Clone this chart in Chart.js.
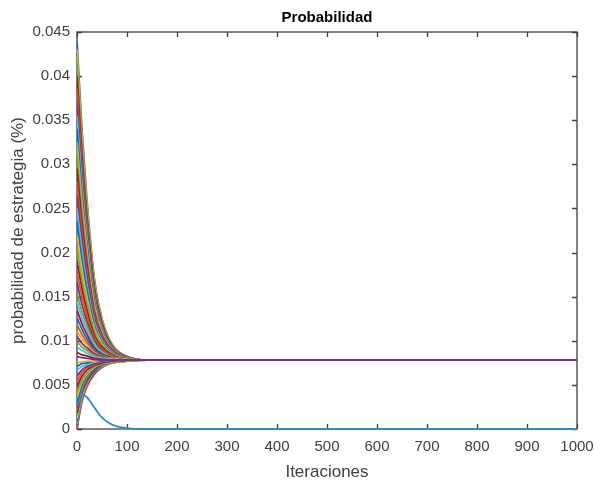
<!DOCTYPE html>
<html>
<head>
<meta charset="utf-8">
<script src="https://cdn.jsdelivr.net/npm/chart.js@4.4.1/dist/chart.umd.min.js"></script>
<style>
  html, body { margin: 0; padding: 0; background: #fff; }
  #wrap { width: 594px; height: 481px; position: relative; }
</style>
</head>
<body>
<div id="wrap"><canvas id="c" width="594" height="481"></canvas></div>
<script>
// ---- data ----
const titulo = "Probabilidad";
const etiquetaX = "Iteraciones";
const etiquetaY = "probabilidad de estrategia (%)";

const iteraciones = [0, 10, 20, 35, 50, 70, 100, 140, 1000];

const ticksX = [0, 100, 200, 300, 400, 500, 600, 700, 800, 900, 1000];
const ticksY = [0, 0.005, 0.01, 0.015, 0.02, 0.025, 0.03, 0.035, 0.04, 0.045];

// strategies starting above the equilibrium
const seriesAltas = [
  [0.0440, 0.0339, 0.0259, 0.0169, 0.0125, 0.0096, 0.0082, 0.0078, 0.0078],
  [0.0430, 0.0331, 0.0254, 0.0166, 0.0124, 0.0096, 0.0082, 0.0078, 0.0078],
  [0.0415, 0.0321, 0.0247, 0.0162, 0.0122, 0.0095, 0.0082, 0.0078, 0.0078],
  [0.0400, 0.0310, 0.0239, 0.0159, 0.0120, 0.0094, 0.0082, 0.0078, 0.0078],
  [0.0385, 0.0299, 0.0232, 0.0155, 0.0118, 0.0093, 0.0082, 0.0078, 0.0078],
  [0.0370, 0.0288, 0.0224, 0.0151, 0.0116, 0.0093, 0.0081, 0.0078, 0.0078],
  [0.0355, 0.0277, 0.0217, 0.0147, 0.0114, 0.0092, 0.0081, 0.0078, 0.0078],
  [0.0340, 0.0267, 0.0209, 0.0144, 0.0112, 0.0091, 0.0081, 0.0078, 0.0078],
  [0.0325, 0.0256, 0.0202, 0.0140, 0.0110, 0.0090, 0.0081, 0.0078, 0.0078],
  [0.0310, 0.0245, 0.0194, 0.0136, 0.0108, 0.0090, 0.0081, 0.0078, 0.0078],
  [0.0295, 0.0234, 0.0187, 0.0132, 0.0106, 0.0089, 0.0081, 0.0078, 0.0078],
  [0.0280, 0.0223, 0.0179, 0.0129, 0.0104, 0.0088, 0.0080, 0.0078, 0.0078],
  [0.0265, 0.0213, 0.0172, 0.0125, 0.0102, 0.0087, 0.0080, 0.0078, 0.0078],
  [0.0250, 0.0202, 0.0164, 0.0121, 0.0100, 0.0087, 0.0080, 0.0078, 0.0078],
  [0.0235, 0.0191, 0.0157, 0.0117, 0.0098, 0.0086, 0.0080, 0.0078, 0.0078],
  [0.0220, 0.0180, 0.0149, 0.0114, 0.0097, 0.0085, 0.0080, 0.0078, 0.0078],
  [0.0205, 0.0169, 0.0142, 0.0110, 0.0095, 0.0084, 0.0080, 0.0078, 0.0078],
  [0.0190, 0.0159, 0.0134, 0.0106, 0.0093, 0.0084, 0.0079, 0.0078, 0.0078],
  [0.0178, 0.0150, 0.0128, 0.0103, 0.0091, 0.0083, 0.0079, 0.0078, 0.0078],
  [0.0166, 0.0141, 0.0122, 0.0100, 0.0089, 0.0082, 0.0079, 0.0078, 0.0078],
  [0.0155, 0.0133, 0.0117, 0.0097, 0.0088, 0.0082, 0.0079, 0.0078, 0.0078],
  [0.0145, 0.0126, 0.0112, 0.0095, 0.0087, 0.0081, 0.0079, 0.0078, 0.0078],
  [0.0135, 0.0119, 0.0107, 0.0092, 0.0085, 0.0081, 0.0078, 0.0078, 0.0078],
  [0.0126, 0.0113, 0.0102, 0.0090, 0.0084, 0.0080, 0.0078, 0.0078, 0.0078],
  [0.0118, 0.0107, 0.0098, 0.0088, 0.0083, 0.0080, 0.0078, 0.0078, 0.0078],
  [0.0111, 0.0102, 0.0095, 0.0086, 0.0082, 0.0080, 0.0078, 0.0078, 0.0078],
  [0.0105, 0.0097, 0.0092, 0.0085, 0.0082, 0.0079, 0.0078, 0.0078, 0.0078],
  [0.0099, 0.0093, 0.0089, 0.0083, 0.0081, 0.0079, 0.0078, 0.0078, 0.0078],
  [0.0093, 0.0089, 0.0086, 0.0082, 0.0080, 0.0079, 0.0078, 0.0078, 0.0078],
  [0.0087, 0.0084, 0.0083, 0.0080, 0.0079, 0.0078, 0.0078, 0.0078, 0.0078],
  [0.0082, 0.0081, 0.0080, 0.0079, 0.0078, 0.0078, 0.0078, 0.0078, 0.0078]
];

// strategies starting below the equilibrium
const seriesBajas = [
  [0.0000, 0.0031, 0.0048, 0.0062, 0.0070, 0.0075, 0.0077, 0.0078, 0.0078],
  [0.0003, 0.0033, 0.0050, 0.0063, 0.0070, 0.0075, 0.0077, 0.0078, 0.0078],
  [0.0006, 0.0035, 0.0051, 0.0064, 0.0071, 0.0075, 0.0077, 0.0078, 0.0078],
  [0.0009, 0.0037, 0.0052, 0.0064, 0.0071, 0.0075, 0.0077, 0.0078, 0.0078],
  [0.0012, 0.0038, 0.0053, 0.0065, 0.0071, 0.0075, 0.0077, 0.0078, 0.0078],
  [0.0015, 0.0040, 0.0054, 0.0065, 0.0072, 0.0075, 0.0077, 0.0078, 0.0078],
  [0.0018, 0.0042, 0.0055, 0.0066, 0.0072, 0.0076, 0.0078, 0.0078, 0.0078],
  [0.0021, 0.0044, 0.0057, 0.0067, 0.0072, 0.0076, 0.0078, 0.0078, 0.0078],
  [0.0024, 0.0046, 0.0058, 0.0067, 0.0073, 0.0076, 0.0078, 0.0078, 0.0078],
  [0.0027, 0.0047, 0.0059, 0.0068, 0.0073, 0.0076, 0.0078, 0.0078, 0.0078],
  [0.0030, 0.0049, 0.0060, 0.0068, 0.0073, 0.0076, 0.0078, 0.0078, 0.0078],
  [0.0036, 0.0053, 0.0062, 0.0070, 0.0074, 0.0076, 0.0078, 0.0078, 0.0078],
  [0.0042, 0.0056, 0.0064, 0.0071, 0.0074, 0.0077, 0.0078, 0.0078, 0.0078],
  [0.0048, 0.0060, 0.0067, 0.0072, 0.0075, 0.0077, 0.0078, 0.0078, 0.0078],
  [0.0054, 0.0064, 0.0069, 0.0073, 0.0076, 0.0077, 0.0078, 0.0078, 0.0078],
  [0.0060, 0.0067, 0.0071, 0.0074, 0.0076, 0.0077, 0.0078, 0.0078, 0.0078],
  [0.0066, 0.0071, 0.0073, 0.0076, 0.0077, 0.0078, 0.0078, 0.0078, 0.0078],
  [0.0071, 0.0074, 0.0075, 0.0077, 0.0077, 0.0078, 0.0078, 0.0078, 0.0078],
  [0.0075, 0.0076, 0.0077, 0.0077, 0.0078, 0.0078, 0.0078, 0.0078, 0.0078]
];

// strategy that dies out
const serieExtinta = [0.0026, 0.0039, 0.0036, 0.0024, 0.0013, 0.0005, 0.0001, 0.0000, 0.0000];

// ---- styling ----
const paleta = ['#0072BD', '#D95319', '#EDB120', '#7E2F8E', '#77AC30', '#4DBEEE', '#A2142F'];
const colorExtinta = '#2E8CC2';
const colorFinal = '#7E2F8E';

function toPoints(arr) {
  return arr.map((v, i) => ({ x: iteraciones[i], y: v }));
}

const datasets = [];
const n = Math.max(seriesAltas.length, seriesBajas.length);
let k = 0;
for (let i = 0; i < n; i++) {
  if (i < seriesAltas.length) {
    datasets.push({ data: toPoints(seriesAltas[i]), borderColor: paleta[k % 7] }); k++;
  }
  if (i < seriesBajas.length) {
    datasets.push({ data: toPoints(seriesBajas[i]), borderColor: paleta[k % 7] }); k++;
  }
}
datasets[datasets.length - 1].borderColor = colorFinal;
datasets.push({ data: toPoints(serieExtinta), borderColor: colorExtinta, clip: false });

datasets.forEach(d => {
  d.borderWidth = 1.8;
  d.pointRadius = 0;
  d.fill = false;
  d.cubicInterpolationMode = 'monotone';
});
// Chart.js paints dataset 0 last (on top): reverse so the plotting order matches MATLAB's
datasets.reverse();

const FONT = "'Liberation Sans', Arial, Helvetica, sans-serif";
const AXIS = '#404040';

const decor = {
  id: 'decor',
  beforeDatasetsDraw(chart) {
    const { ctx, chartArea: a, scales } = chart;
    ctx.save();
    ctx.strokeStyle = AXIS;
    ctx.lineWidth = 1.3;
    ctx.strokeRect(a.left, a.top, a.right - a.left, a.bottom - a.top);
    const L = 5;
    ctx.beginPath();
    ticksX.forEach(v => {
      const x = Math.round(scales.x.getPixelForValue(v)) + 0.5;
      ctx.moveTo(x, a.bottom); ctx.lineTo(x, a.bottom - L);
      ctx.moveTo(x, a.top); ctx.lineTo(x, a.top + L);
    });
    ticksY.forEach(v => {
      const y = Math.round(scales.y.getPixelForValue(v)) + 0.5;
      ctx.moveTo(a.left, y); ctx.lineTo(a.left + L, y);
      ctx.moveTo(a.right, y); ctx.lineTo(a.right - L, y);
    });
    ctx.stroke();
    ctx.restore();
  },
  afterDraw(chart) {
    const { ctx, chartArea: a } = chart;
    const cx = (a.left + a.right) / 2;
    const cy = (a.top + a.bottom) / 2;
    ctx.save();
    ctx.textAlign = 'center';
    ctx.textBaseline = 'middle';
    ctx.fillStyle = '#000';
    ctx.font = 'bold 15px ' + FONT;
    ctx.fillText(titulo, cx, 18);
    ctx.fillStyle = AXIS;
    ctx.font = '17px ' + FONT;
    ctx.fillText(etiquetaX, cx, 472);
    ctx.translate(18, cy);
    ctx.rotate(-Math.PI / 2);
    ctx.fillText(etiquetaY, 0, 0);
    ctx.restore();
  }
};

new Chart(document.getElementById('c'), {
  type: 'line',
  data: { datasets },
  options: {
    responsive: false,
    animation: false,
    events: [],
    layout: { padding: { top: 32, right: 17, bottom: 0, left: 0 } },
    plugins: { legend: { display: false }, tooltip: { enabled: false }, title: { display: false } },
    scales: {
      x: {
        type: 'linear',
        min: 0, max: 1000,
        afterBuildTicks: s => { s.ticks = ticksX.map(v => ({ value: v })); },
        afterFit: s => { s.height = 52; s.paddingLeft = 0; s.paddingRight = 0; },
        grid: { display: false, drawTicks: false },
        border: { display: false },
        ticks: {
          color: AXIS, font: { family: FONT, size: 15 }, padding: 9, maxRotation: 0, autoSkip: false,
          callback: v => String(v)
        }
      },
      y: {
        type: 'linear',
        min: 0, max: 0.045,
        afterBuildTicks: s => { s.ticks = ticksY.map(v => ({ value: v })); },
        afterFit: s => { s.width = 77; s.paddingTop = 0; s.paddingBottom = 0; },
        grid: { display: false, drawTicks: false },
        border: { display: false },
        ticks: {
          color: AXIS, font: { family: FONT, size: 15 }, padding: 7, autoSkip: false,
          callback: v => String(parseFloat(Number(v).toFixed(3)))
        }
      }
    }
  },
  plugins: [decor]
});
</script>
</body>
</html>
